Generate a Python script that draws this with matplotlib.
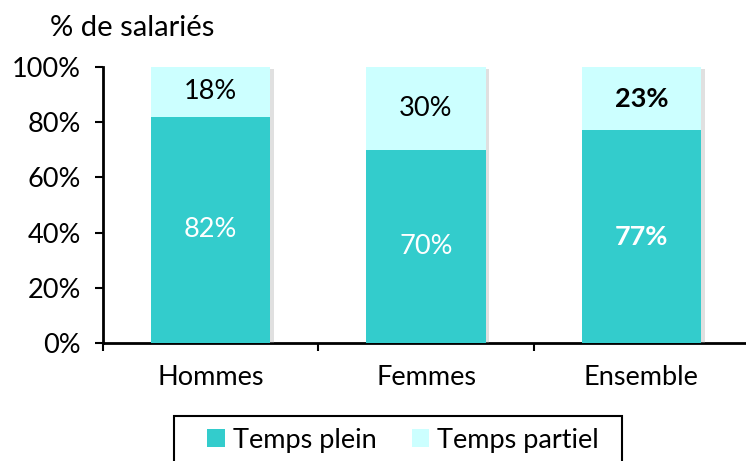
import matplotlib
matplotlib.use("Agg")
import matplotlib.pyplot as plt
import matplotlib.patheffects as pe
from matplotlib.patches import Patch, Rectangle

categories = ["Hommes", "Femmes", "Ensemble"]
temps_plein = [82, 70, 77]
temps_partiel = [18, 30, 23]
ytick_labels = ["0%", "20%", "40%", "60%", "80%", "100%"]
series_names = ["Temps plein", "Temps partiel"]

plt.rcParams['font.family'] = ['Lato', 'DejaVu Sans']

fig = plt.figure(figsize=(7.46, 4.61), dpi=100)
ax = fig.add_axes([103/746, 1-343/461, 646/746, 276/461])

c_full = "#33CCCC"
c_part = "#CCFFFF"
x = list(range(len(categories)))
totals = [a + b for a, b in zip(temps_plein, temps_partiel)]
shadow = [pe.SimplePatchShadow(offset=(2.5, -1.5), shadow_rgbFace="#999999", alpha=0.3), pe.Normal()]

# full-height bar (partial colour) carries the shadow, full-time segment drawn on top
ax.bar(x, totals, width=0.555, color=c_part, zorder=3, path_effects=shadow)
ax.bar(x, temps_plein, width=0.555, color=c_full, zorder=4)

fs = 19.5
for i in x:
    bold = 'bold' if categories[i] == "Ensemble" else 'normal'
    ax.text(i, temps_plein[i] / 2, f"{temps_plein[i]}%", ha='center', va='center',
            color='white', fontsize=fs, fontweight=bold, zorder=5)
    ax.text(i, temps_plein[i] + temps_partiel[i] / 2, f"{temps_partiel[i]}%", ha='center', va='center',
            color='black', fontsize=fs, fontweight=bold, zorder=5)

ax.set_xlim(-0.5, 2.5)
ax.set_ylim(0, 100)
ax.set_yticks([0, 20, 40, 60, 80, 100])
ax.set_yticklabels(ytick_labels, fontsize=fs)
ax.set_xticks([-0.5, 0.5, 1.5, 2.5])
ax.set_xticklabels([])
ax.set_xticks(x, minor=True)
ax.set_xticklabels(categories, minor=True, fontsize=fs)
ax.tick_params(axis='x', which='minor', length=0, pad=16)
ax.tick_params(axis='x', which='major', length=6, width=1.5, direction='out')
ax.tick_params(axis='y', length=6, width=1.5, direction='out', pad=10)

for s in ['top', 'right']:
    ax.spines[s].set_visible(False)
for s in ['left', 'bottom']:
    ax.spines[s].set_linewidth(2)

fig.text(50/746, 1-28/461, "% de salariés", fontsize=21, ha='left', va='center')

handles = [Patch(facecolor=c_full, edgecolor='none'), Patch(facecolor=c_part, edgecolor='none')]
leg = fig.legend(handles, series_names, loc='center', bbox_to_anchor=(403/746, 1-440/461),
                 ncol=2, fontsize=fs, frameon=False, handlelength=0.65,
                 handleheight=0.65, handletextpad=0.3, columnspacing=1.3, borderpad=0,
                 borderaxespad=0)
fig.patches.append(Rectangle((174/746, -0.1), (622-174)/746, (461-416)/461 + 0.1,
                             transform=fig.transFigure, fill=False, edgecolor='black',
                             linewidth=1.5))

fig.savefig("out.png", dpi=100)
